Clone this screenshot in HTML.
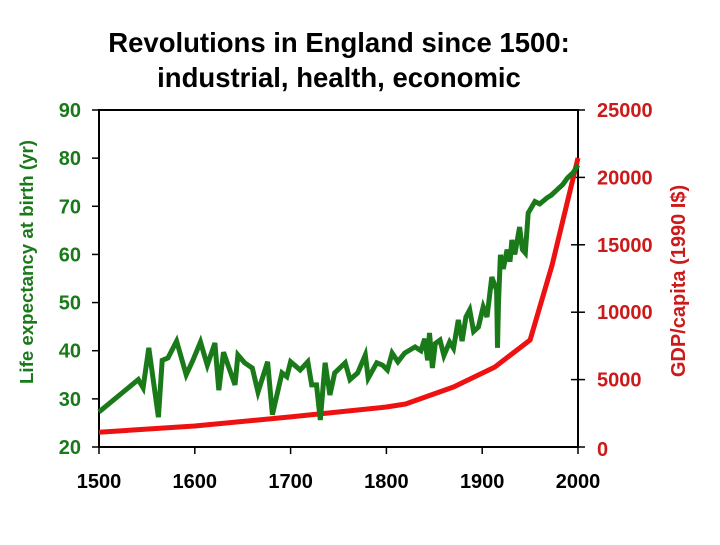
<!DOCTYPE html>
<html><head><meta charset="utf-8"><style>
body{margin:0;background:#fff;}
svg text{font-family:"Liberation Sans",Arial,sans-serif;font-weight:bold;}
</style></head><body>
<svg id="chart" width="720" height="540" viewBox="0 0 720 540" xmlns="http://www.w3.org/2000/svg">
<rect width="720" height="540" fill="#fff"/>
<text x="339" y="52" text-anchor="middle" font-size="27.5" fill="#000">Revolutions in England since 1500:</text>
<text x="339" y="87" text-anchor="middle" font-size="27.5" fill="#000">industrial, health, economic</text>
<g id="axes"></g>
<g id="series"></g>
<text transform="translate(33,262) rotate(-90)" text-anchor="middle" font-size="18.7" fill="#1a7a1a">Life expectancy at birth (yr)</text>
<text transform="translate(685,281) rotate(-90)" text-anchor="middle" font-size="20" fill="#cc1a1a">GDP/capita (1990 I$)</text>
</svg>
<script>
const xTicks=[1500,1600,1700,1800,1900,2000];
const leftTicks=[20,30,40,50,60,70,80,90];
const rightTicks=[0,5000,10000,15000,20000,25000];
const lifeYears=[1500,1541,1546,1552,1562,1566,1572,1581,1591,1598,1606,1613,1621,1625,1630,1642,1645,1652,1660,1666,1676,1681,1691,1696,1700,1710,1718,1722,1727,1731,1736,1741,1746,1757,1762,1770,1778,1781,1790,1796,1801,1806,1812,1819,1830,1836,1840,1843,1845,1848,1851,1856,1860,1866,1870,1875,1879,1883,1887,1891,1896,1901,1905,1910,1915,1916,1917,1919,1922,1926,1929,1931,1934,1939,1942,1945,1948,1955,1960,1968,1972,1978,1984,1989,1995,2000];
const lifeValues=[27.3,34,32.3,40.6,26.2,38,38.5,42,35,38,41.8,37,41.6,31.8,39.7,32.9,39.1,37.5,36.4,31.4,37.7,26.7,35.4,34.6,37.7,36,37.7,32.9,32.9,25.6,37.5,30.8,35.4,37.5,34,35.4,39.1,34.3,37.5,37,36,39.5,37.7,39.5,40.8,40,42.5,38,43.7,36.4,41.5,42.2,39,41.8,40.5,46.4,42,47,48.5,44,44.9,49.1,47,55.3,52.6,40.6,50,59.9,57,61,58.5,63,60,65.7,61,60.3,68.6,71,70.5,71.8,72.3,73.4,74.5,75.9,77,78.6];
const gdpYears=[1500,1600,1700,1800,1820,1870,1913,1950,1973,2000];
const gdpValues=[1100,1560,2230,2970,3190,4450,5930,7940,13500,21440];

const X0=99,X1=578,YT=110,YB=447;
const xS=v=>X0+(v-1500)/(2000-1500)*(X1-X0);
const yL=v=>YB-(v-20)/(90-20)*(YB-YT);
const yR=v=>YB-v/25000*(YB-YT);
const NS="http://www.w3.org/2000/svg";
function mk(tag,attrs,parent,txt){const e=document.createElementNS(NS,tag);for(const k in attrs)e.setAttribute(k,attrs[k]);if(txt!==undefined)e.textContent=txt;parent.appendChild(e);return e;}
const ax=document.getElementById('axes');
let e=mk('path',{d:`M${X0},${YT}H${X1}V${YB}H${X0}Z`,fill:'none',stroke:'#000','stroke-width':2},ax);


xTicks.forEach(t=>{
 let l=mk('line',{x1:xS(t),x2:xS(t),y1:YB,y2:YB+7,stroke:'#000','stroke-width':1.5},ax);
 
 
 let tx=mk('text',{x:xS(t),y:488,'text-anchor':'middle','font-size':20,fill:'#000'},ax,String(t));
 
 
});
leftTicks.forEach(t=>{
 let l=mk('line',{x1:X0-7,x2:X0,y1:yL(t),y2:yL(t),stroke:'#000','stroke-width':1.5},ax);
 
 
 let tx=mk('text',{x:81,y:yL(t)+7,'text-anchor':'end','font-size':20,fill:'#1a7a1a'},ax,String(t));
 
 
});
rightTicks.forEach(t=>{
 let l=mk('line',{x1:X1-7,x2:X1+7,y1:yR(t),y2:yR(t),stroke:'#000','stroke-width':1.5},ax);
 
 
 let tx=mk('text',{x:597,y:yR(t)+7+(t===0?2:0),'text-anchor':'start','font-size':20,fill:'#cc1a1a'},ax,String(t));
 
 
});
const se=document.getElementById('series');
let gd=gdpYears.map((y,i)=>(i?'L':'M')+xS(y).toFixed(1)+','+yR(gdpValues[i]).toFixed(1)).join('');
let gp=mk('path',{d:gd,fill:'none',stroke:'#ee1111','stroke-width':5,'stroke-linejoin':'round'},se);


let ld=lifeYears.map((y,i)=>(i?'L':'M')+xS(y).toFixed(1)+','+yL(lifeValues[i]).toFixed(1)).join('');
let lp=mk('path',{d:ld,fill:'none',stroke:'#1a7a1a','stroke-width':5,'stroke-linejoin':'miter'},se);


</script>
</body></html>
